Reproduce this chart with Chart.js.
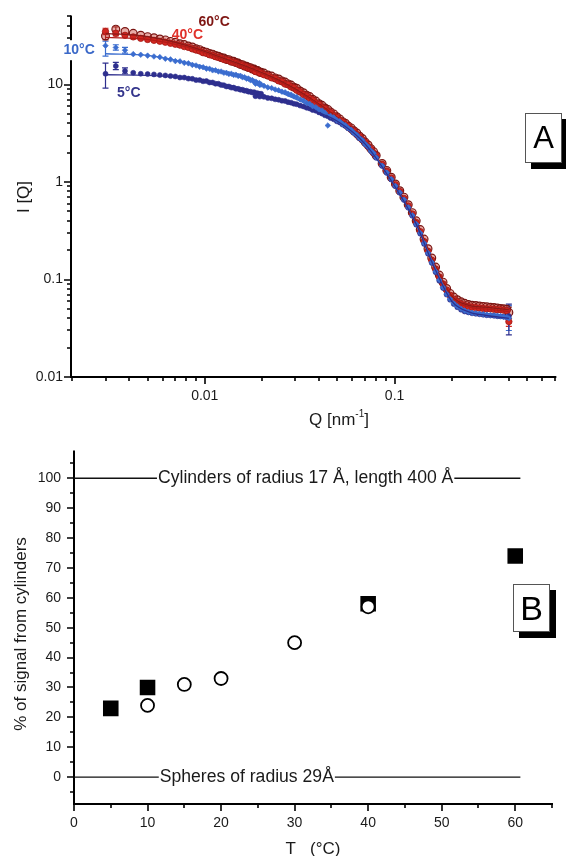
<!DOCTYPE html>
<html>
<head>
<meta charset="utf-8">
<script src="https://cdn.jsdelivr.net/npm/chart.js@4.4.1/dist/chart.umd.min.js"></script>
<style>
  html, body { margin: 0; padding: 0; background: #fff; width: 566px; height: 856px; overflow: hidden; }
  canvas { position: absolute; left: 0; }
  #saxs { top: 0; }
  #fraction { top: 430px; }
  .panel-tag {
    position: absolute; box-sizing: border-box; width: 37px; background: #fff;
    border: 1.5px solid #555; box-shadow: 6px 6px 0 #000;
    font-family: 'Liberation Sans', Arial, Helvetica, sans-serif; color: #000; text-align: center;
  }
</style>
</head>
<body>
<canvas id="saxs" width="566" height="430"></canvas>
<canvas id="fraction" width="566" height="430"></canvas>
<div class="panel-tag" style="left:525px;top:113px;height:50px;line-height:48px;font-size:31px;">A</div>
<div class="panel-tag" style="left:513px;top:584px;height:48px;line-height:46px;font-size:34px;">B</div>
<script>
// ---------- Panel A: scattered intensity I(Q) at four temperatures ----------
// Q in nm^-1; first 43 points: low-Q detector setting, remaining 75: high-Q setting
const qValues = [
  0.0030, 0.0034, 0.0038, 0.0042, 0.0046, 0.0050, 0.0054, 0.0058, 0.0062, 0.0066,
  0.0070, 0.0074, 0.0078, 0.0082, 0.0086, 0.0090, 0.0094, 0.0098, 0.0102, 0.0106,
  0.0110, 0.0114, 0.0118, 0.0122, 0.0126, 0.0130, 0.0134, 0.0138, 0.0142, 0.0146,
  0.0150, 0.0154, 0.0158, 0.0162, 0.0166, 0.0170, 0.0174, 0.0178, 0.0182, 0.0186,
  0.0190, 0.0194, 0.0198,
  0.0185, 0.0195, 0.0205, 0.0215, 0.0225, 0.0235, 0.0245, 0.0255, 0.0265, 0.0275,
  0.0285, 0.0295, 0.0305, 0.0318, 0.0331, 0.0344, 0.0357, 0.0370, 0.0385, 0.0400,
  0.0415, 0.0430, 0.0445, 0.0460, 0.0478, 0.0496, 0.0514, 0.0532, 0.0550, 0.0570,
  0.0590, 0.0610, 0.0632, 0.0654, 0.0676, 0.0700, 0.0725, 0.0750, 0.0775, 0.0800,
  0.0860, 0.0910, 0.0960, 0.1010, 0.1065, 0.1120, 0.1180, 0.1240, 0.1300, 0.1365,
  0.1430, 0.1500, 0.1570, 0.1645, 0.1720, 0.1800, 0.1880, 0.1960, 0.2050, 0.2140,
  0.2240, 0.2340, 0.2450, 0.2560, 0.2680, 0.2800, 0.2930, 0.3060, 0.3200, 0.3340,
  0.3480, 0.3620, 0.3760, 0.3900, 0.4000
];
const int60C = [
  31.5, 37, 35, 33.5, 32, 31, 30.2, 29.3, 28.7, 27.7,
  27.1, 26.2, 25.7, 24.8, 24.3, 23.3, 22.8, 21.9, 21.5, 20.8,
  20.5, 19.8, 19.5, 18.9, 18.7, 18.1, 18.0, 17.4, 17.3, 16.8,
  16.6, 16.1, 16.0, 15.5, 15.4, 14.95, 14.9, 14.45, 14.4, 13.95,
  13.9, 13.45, 13.4,
  14.0, 13.4, 13.1, 12.5, 12.2, 11.7, 11.4, 10.9, 10.6, 10.15,
  9.87, 9.4, 9.15, 8.58, 8.25, 7.78, 7.52, 7.06, 6.76, 6.35,
  6.12, 5.75, 5.56, 5.24, 5.0, 4.67, 4.44, 4.16, 4.01, 3.75,
  3.59, 3.36, 3.18, 2.95, 2.8, 2.57, 2.4, 2.2, 2.05, 1.87,
  1.55, 1.31, 1.12, 0.955, 0.815, 0.70, 0.585, 0.485, 0.40, 0.325,
  0.26, 0.207, 0.166, 0.134, 0.111, 0.094, 0.081, 0.072, 0.066, 0.062,
  0.059, 0.057, 0.0555, 0.0545, 0.054, 0.0535, 0.053, 0.0525, 0.052, 0.0515,
  0.051, 0.0505, 0.050, 0.0495, 0.046
];
const int40C = [
  35, 33.5, 32, 30.8, 29.8, 29.0, 28.4, 27.8, 27.2, 26.5,
  25.9, 25.4, 24.5, 24.1, 23.2, 22.6, 22.1, 21.2, 20.9, 20.2,
  19.9, 19.3, 19.0, 18.7, 18.1, 17.9, 17.7, 17.1, 16.9, 16.7,
  16.2, 16.0, 15.8, 15.3, 15.2, 14.8, 14.6, 14.4, 14.0, 13.9,
  13.6, 13.3, 13.1,
  13.6, 13.2, 12.6, 12.3, 11.7, 11.5, 10.9, 10.7, 10.1, 9.95,
  9.45, 9.25, 8.75, 8.42, 7.9, 7.64, 7.2, 6.94, 6.46, 6.26,
  5.85, 5.67, 5.33, 5.16, 4.79, 4.6, 4.29, 4.14, 3.88, 3.73,
  3.47, 3.34, 3.08, 2.93, 2.71, 2.56, 2.32, 2.19, 1.98, 1.86,
  1.52, 1.29, 1.1, 0.94, 0.80, 0.68, 0.57, 0.47, 0.385, 0.31,
  0.245, 0.195, 0.158, 0.128, 0.106, 0.090, 0.078, 0.069, 0.063, 0.059,
  0.056, 0.054, 0.053, 0.052, 0.0515, 0.051, 0.0505, 0.050, 0.050, 0.0495,
  0.049, 0.049, 0.0485, 0.048, 0.037
];
const int10C = [
  25, 24, 22.5, 20.5, 20.2, 19.8, 19.4, 19.1, 18.4, 18.1,
  17.4, 17.3, 16.7, 16.5, 15.9, 15.7, 15.2, 15.05, 14.55, 14.5,
  14.0, 14.0, 13.6, 13.6, 13.2, 13.2, 12.85, 12.9, 12.55, 12.6,
  12.25, 12.3, 11.9, 11.9, 11.5, 11.5, 11.1, 11.1, 10.7, 10.7,
  10.3, 10.35, 10.0,
  10.2, 9.9, 9.7, 9.35, 9.2, 8.9, 8.73, 8.45, 8.33, 8.03,
  7.88, 7.57, 7.43, 7.05, 6.85, 6.48, 6.33, 6.0, 5.85, 5.52,
  5.42, 5.12, 3.8, 4.76, 4.6, 4.32, 4.2, 3.95, 3.82, 3.57,
  3.43, 3.2, 3.04, 2.82, 2.68, 2.45, 2.3, 2.09, 1.97, 1.78,
  1.47, 1.25, 1.07, 0.91, 0.78, 0.66, 0.55, 0.455, 0.37, 0.30,
  0.236, 0.187, 0.150, 0.121, 0.099, 0.083, 0.071, 0.063, 0.057, 0.053,
  0.050, 0.048, 0.0465, 0.0455, 0.045, 0.0445, 0.044, 0.0435, 0.043, 0.0428,
  0.0425, 0.042, 0.0415, 0.041, 0.040
];
const int5C = [
  12.9, 15.5, 13.8, 13.2, 12.9, 12.8, 12.7, 12.5, 12.4, 12.2,
  12.1, 11.8, 11.8, 11.5, 11.45, 11.1, 11.1, 10.8, 10.85, 10.5,
  10.5, 10.2, 10.2, 9.9, 9.85, 9.55, 9.55, 9.3, 9.3, 9.05,
  9.05, 8.85, 8.85, 8.65, 8.65, 8.45, 8.45, 8.3, 8.35, 8.15,
  8.15, 8.0, 8.05,
  7.6, 7.52, 7.48, 7.28, 7.22, 7.05, 6.98, 6.82, 6.78, 6.6,
  6.52, 6.36, 6.28, 6.08, 5.96, 5.78, 5.68, 5.48, 5.38, 5.18,
  5.03, 4.83, 4.73, 4.53, 4.4, 4.2, 4.08, 3.88, 3.76, 3.55,
  3.4, 3.18, 3.02, 2.8, 2.66, 2.44, 2.29, 2.08, 1.96, 1.77,
  1.46, 1.24, 1.06, 0.905, 0.775, 0.655, 0.545, 0.45, 0.365, 0.295,
  0.232, 0.184, 0.148, 0.119, 0.097, 0.082, 0.070, 0.062, 0.056, 0.052,
  0.049, 0.047, 0.046, 0.045, 0.0445, 0.044, 0.0435, 0.043, 0.0428, 0.0425,
  0.042, 0.0418, 0.0415, 0.041, 0.042
];

// model fits (cylinder + sphere mixture) at each temperature
const fitQ   = [0.003, 0.005, 0.008, 0.012, 0.018, 0.025, 0.035, 0.05, 0.07, 0.1, 0.13, 0.16, 0.2, 0.25, 0.3, 0.4];
const fit5C  = [12.6, 12.4, 11.6, 10.2, 8.3, 6.9, 5.6, 4.2, 2.45, 0.91, 0.37, 0.14, 0.060, 0.046, 0.043, 0.040];
const fit10C = [20.7, 19.9, 16.9, 13.9, 10.8, 8.3, 6.2, 4.3, 2.5, 0.92, 0.37, 0.145, 0.061, 0.046, 0.043, 0.040];
const fit40C = [30.5, 29.0, 24.3, 18.6, 14.0, 10.6, 7.3, 4.5, 2.55, 0.95, 0.39, 0.15, 0.066, 0.052, 0.050, 0.047];
const fit60C = [33.5, 31.0, 25.2, 19.2, 14.4, 10.9, 7.5, 4.6, 2.6, 0.96, 0.40, 0.155, 0.068, 0.054, 0.052, 0.049];

// error bars: [Q, lower I, upper I]
const err5C  = [[0.0030, 9.2, 16.6], [0.0034, 14.2, 16.9], [0.0038, 12.9, 14.8], [0.4000, 0.027, 0.056]];
const err10C = [[0.0030, 19.6, 27.8], [0.0034, 22.5, 25.6], [0.0038, 21.0, 24.0], [0.4000, 0.030, 0.054]];
const err40C = [[0.0030, 32.5, 37.8], [0.0034, 31.5, 35.5], [0.4000, 0.033, 0.043]];
const err60C = [[0.0030, 28.7, 34.5], [0.0034, 35.0, 39.0], [0.4000, 0.040, 0.052]];

const qTicks = [0.002, 0.003, 0.004, 0.005, 0.006, 0.007, 0.008, 0.009,
                0.01, 0.02, 0.03, 0.04, 0.05, 0.06, 0.07, 0.08, 0.09,
                0.1, 0.2, 0.3, 0.4, 0.5, 0.6, 0.7];
const qTickLabels = [0.01, 0.1];
const iTicks = [0.01, 0.02, 0.03, 0.04, 0.05, 0.06, 0.07, 0.08, 0.09,
                0.1, 0.2, 0.3, 0.4, 0.5, 0.6, 0.7, 0.8, 0.9,
                1, 2, 3, 4, 5, 6, 7, 8, 9, 10, 20, 30, 40, 50];
const iTickLabels = [0.01, 0.1, 1, 10];

// ---------- Panel B: fraction of signal from cylinders ----------
const tempSquares = [5, 10, 40, 60];
const pctSquares  = [23, 30, 58, 74];
const tempCircles = [10, 15, 20, 30, 40];
const pctCircles  = [24, 31, 33, 45, 57];
const limitT = [0, 60.7];
const cylinderLimit = [100, 100];
const sphereLimit = [0, 0];
const tTicks = [0, 5, 10, 15, 20, 25, 30, 35, 40, 45, 50, 55, 60, 65];
const tTickLabels = [0, 10, 20, 30, 40, 50, 60];
const pTicks = [-5, 0, 5, 10, 15, 20, 25, 30, 35, 40, 45, 50, 55, 60, 65, 70, 75, 80, 85, 90, 95, 100, 105];
const pTickLabels = [0, 10, 20, 30, 40, 50, 60, 70, 80, 90, 100];

const FONT = "'Liberation Sans', Arial, Helvetica, sans-serif";
Chart.defaults.font.family = FONT;
Chart.defaults.color = '#1a1a1a';

const col60 = '#8a1a17', col40 = '#d2261f', col10 = '#3b6dcf', col5 = '#2e2f8e';
const pts = (xs, ys) => xs.map((x, i) => ({ x, y: ys[i] }));

// Origin-style axes: thick left/bottom spines, outward ticks (long for labelled ones)
function drawSpines(chart, major, minor) {
  const { ctx, chartArea: a, scales } = chart;
  ctx.save();
  ctx.strokeStyle = '#000';
  ctx.lineWidth = 2;
  ctx.lineCap = 'square';
  ctx.beginPath();
  ctx.moveTo(a.left, a.top);
  ctx.lineTo(a.left, a.bottom);
  ctx.lineTo(a.right, a.bottom);
  ctx.stroke();
  ctx.lineWidth = 1.6;
  ctx.lineCap = 'butt';
  ctx.beginPath();
  scales.x.ticks.forEach(t => {
    const px = Math.round(scales.x.getPixelForValue(t.value));
    const len = t.label !== '' ? major : minor;
    ctx.moveTo(px, a.bottom);
    ctx.lineTo(px, a.bottom + len);
  });
  scales.y.ticks.forEach(t => {
    const py = Math.round(scales.y.getPixelForValue(t.value));
    const len = t.label !== '' ? major : minor;
    ctx.moveTo(a.left, py);
    ctx.lineTo(a.left - len, py);
  });
  ctx.stroke();
  ctx.restore();
}

// text with optional superscript pieces, centred on (cx, cy)
function drawRich(ctx, parts, cx, cy, size, angle) {
  ctx.save();
  ctx.translate(cx, cy);
  if (angle) ctx.rotate(angle);
  const fontOf = p => `${p.sup ? Math.round(size * 0.6) : size}px ${FONT}`;
  let total = 0;
  parts.forEach(p => { ctx.font = fontOf(p); total += ctx.measureText(p.t).width; });
  let x = -total / 2;
  ctx.textAlign = 'left';
  ctx.textBaseline = 'middle';
  ctx.fillStyle = '#1a1a1a';
  parts.forEach(p => {
    ctx.font = fontOf(p);
    ctx.fillText(p.t, x, p.sup ? -size * 0.36 : 0);
    x += ctx.measureText(p.t).width;
  });
  ctx.restore();
}

function labelAt(ctx, text, x, y, font, color, bg) {
  ctx.save();
  ctx.font = font;
  ctx.textAlign = 'center';
  ctx.textBaseline = 'middle';
  if (bg) {
    const w = ctx.measureText(text).width;
    ctx.fillStyle = '#fff';
    ctx.fillRect(x - w / 2 - bg[0], y - bg[1], w + 2 * bg[0], 2 * bg[1]);
  }
  ctx.fillStyle = color;
  ctx.fillText(text, x, y);
  ctx.restore();
}

const baseScale = (ticks, labels, padding, extra) => Object.assign({
  grid: { display: false, drawTicks: false },
  border: { display: false },
  afterBuildTicks: s => { s.ticks = ticks.map(value => ({ value })); },
  ticks: {
    autoSkip: false, maxRotation: 0, color: '#1a1a1a', padding,
    font: { size: 14 },
    callback: v => labels.includes(v) ? String(v) : ''
  }
}, extra);

// ---------- chart A ----------
const saxsPlugin = {
  id: 'saxsDecor',
  beforeDatasetsDraw(chart) {
    drawSpines(chart, 7, 4);
    const { ctx, scales: { x, y } } = chart;
    const sets = [[err60C, col60], [err40C, col40], [err10C, col10], [err5C, col5]];
    ctx.save();
    ctx.lineWidth = 1.2;
    sets.forEach(([bars, color]) => {
      ctx.strokeStyle = color;
      bars.forEach(([q, lo, hi]) => {
        const px = x.getPixelForValue(q), y1 = y.getPixelForValue(lo), y2 = y.getPixelForValue(hi);
        ctx.beginPath();
        ctx.moveTo(px, y1); ctx.lineTo(px, y2);
        ctx.moveTo(px - 3, y1); ctx.lineTo(px + 3, y1);
        ctx.moveTo(px - 3, y2); ctx.lineTo(px + 3, y2);
        ctx.stroke();
      });
    });
    ctx.restore();
  },
  afterDraw(chart) {
    const { ctx, scales: { x, y } } = chart;
    const bold = `bold 14px ${FONT}`;
    labelAt(ctx, '60°C', x.getPixelForValue(0.0112), y.getPixelForValue(43.4), bold, '#7e1512');
    labelAt(ctx, '40°C', x.getPixelForValue(0.0081), y.getPixelForValue(32.0), bold, '#e0312a');
    labelAt(ctx, '10°C', x.getPixelForValue(0.00218), y.getPixelForValue(22.5), bold, '#3a68c8', [3, 10]);
    labelAt(ctx, '5°C', x.getPixelForValue(0.00398), y.getPixelForValue(8.2), bold, '#34358c');
    drawRich(ctx, [{ t: 'Q [nm' }, { t: '-1', sup: true }, { t: ']' }], 339, 420, 17);
    drawRich(ctx, [{ t: 'I [Q]' }], 24, 197, 17, -Math.PI / 2);
  }
};

const fitLine = (label, ys, color) => ({
  label, data: pts(fitQ, ys), showLine: true, pointRadius: 0, borderColor: color,
  borderWidth: 1.3, cubicInterpolationMode: 'monotone'
});

new Chart(document.getElementById('saxs'), {
  type: 'scatter',
  data: {
    datasets: [
      fitLine('5 °C fit', fit5C, col5),
      fitLine('10 °C fit', fit10C, col10),
      { label: '10 °C', data: pts(qValues, int10C), pointStyle: 'rectRot', pointRadius: 2.8,
        backgroundColor: col10, borderColor: col10, borderWidth: 0.6 },
      { label: '5 °C', data: pts(qValues, int5C), pointStyle: 'circle', pointRadius: 2.5,
        backgroundColor: col5, borderColor: col5, borderWidth: 0.6 },
      fitLine('40 °C fit', fit40C, '#b01c18'),
      fitLine('60 °C fit', fit60C, col60),
      { label: '40 °C', data: pts(qValues, int40C), pointStyle: 'circle', pointRadius: 3.2,
        backgroundColor: col40, borderColor: '#a31a16', borderWidth: 0.8 },
      { label: '60 °C', data: pts(qValues, int60C), pointStyle: 'circle', pointRadius: 3.9,
        backgroundColor: 'rgba(205,70,60,0.45)', borderColor: '#7a1512', borderWidth: 1.2 }
    ]
  },
  options: {
    responsive: false, animation: false, devicePixelRatio: 1, events: [],
    layout: { padding: { top: 13, right: 0, bottom: 0, left: 0 } },
    plugins: { legend: { display: false }, tooltip: { enabled: false } },
    scales: {
      x: baseScale(qTicks, qTickLabels, 11, {
        type: 'logarithmic', position: 'bottom', min: 0.001974, max: 0.703,
        afterFit: s => { s.height = 53; }
      }),
      y: baseScale(iTicks, iTickLabels, 8, {
        type: 'logarithmic', position: 'left', min: 0.01, max: 50,
        afterFit: s => { s.width = 71; }
      })
    }
  },
  plugins: [saxsPlugin]
});

// ---------- chart B ----------
const fractionPlugin = {
  id: 'fractionDecor',
  beforeDatasetsDraw(chart) { drawSpines(chart, 7, 4); },
  afterDatasetsDraw(chart) {
    const { ctx, scales: { x, y } } = chart;
    const f = `17.6px ${FONT}`;
    labelAt(ctx, 'Cylinders of radius 17 Å, length 400 Å', x.getPixelForValue(31.5), y.getPixelForValue(100), f, '#1a1a1a', [1, 9]);
    labelAt(ctx, 'Spheres of radius 29Å', x.getPixelForValue(23.5), y.getPixelForValue(0), f, '#1a1a1a', [1, 9]);
  },
  afterDraw(chart) {
    const { ctx } = chart;
    drawRich(ctx, [{ t: 'T   (°C)' }], 313, 419, 17);
    drawRich(ctx, [{ t: '% of signal from cylinders' }], 21, 204, 17, -Math.PI / 2);
  }
};

new Chart(document.getElementById('fraction'), {
  type: 'scatter',
  data: {
    datasets: [
      { label: 'circles', data: pts(tempCircles, pctCircles), pointStyle: 'circle', pointRadius: 6.5,
        backgroundColor: '#fff', borderColor: '#000', borderWidth: 1.8 },
      { label: 'squares', data: pts(tempSquares, pctSquares), pointStyle: 'rect', pointRadius: 11,
        backgroundColor: '#000', borderColor: '#000', borderWidth: 0 },
      { label: 'cylinders', data: pts(limitT, cylinderLimit), showLine: true, pointRadius: 0,
        borderColor: '#111', borderWidth: 1.4 },
      { label: 'spheres', data: pts(limitT, sphereLimit), showLine: true, pointRadius: 0,
        borderColor: '#111', borderWidth: 1.4 }
    ]
  },
  options: {
    responsive: false, animation: false, devicePixelRatio: 1, events: [],
    layout: { padding: { top: 12, right: 14, bottom: 0, left: 0 } },
    plugins: { legend: { display: false }, tooltip: { enabled: false } },
    scales: {
      x: baseScale(tTicks, tTickLabels, 11, {
        type: 'linear', position: 'bottom', min: 0, max: 65,
        afterFit: s => { s.height = 56; }
      }),
      y: baseScale(pTicks, pTickLabels, 13, {
        type: 'linear', position: 'left', min: -9, max: 109,
        afterFit: s => { s.width = 74; }
      })
    }
  },
  plugins: [fractionPlugin]
});
</script>
</body>
</html>
